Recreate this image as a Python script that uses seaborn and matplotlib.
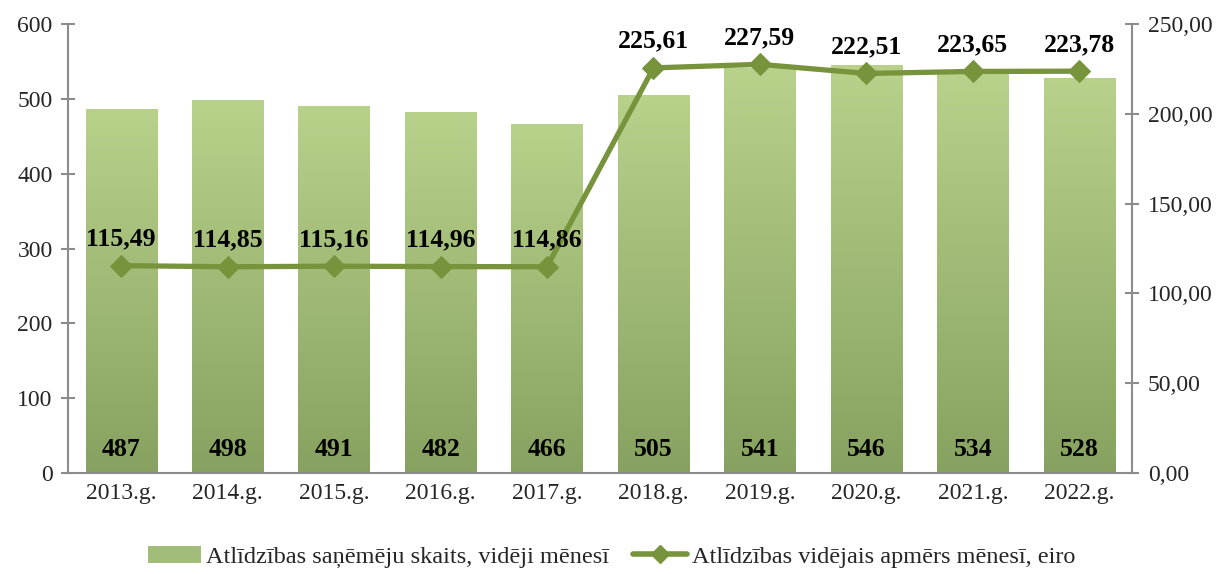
import numpy as np
import pandas as pd
import matplotlib
matplotlib.use("Agg")
import matplotlib.pyplot as plt
from matplotlib.colors import LinearSegmentedColormap
from matplotlib.lines import Line2D
from matplotlib.patches import Patch
import seaborn as sns

years = ["2013.g.", "2014.g.", "2015.g.", "2016.g.", "2017.g.", "2018.g.", "2019.g.", "2020.g.", "2021.g.", "2022.g."]
recipients = [487, 498, 491, 482, 466, 505, 541, 546, 534, 528]
avg_amount = [115.49, 114.85, 115.16, 114.96, 114.86, 225.61, 227.59, 222.51, 223.65, 223.78]
bar_label = "Atlīdzības saņēmēju skaits, vidēji mēnesī"
line_label = "Atlīdzības vidējais apmērs mēnesī, eiro"

sns.set_theme(style="white")
plt.rcParams["font.family"] = ["Liberation Serif", "DejaVu Serif"]

df = pd.DataFrame({"year": years, "recipients": recipients, "amount": avg_amount})

fig = plt.figure(figsize=(12.23, 5.74), dpi=100)
ax = fig.add_axes([0.0556, 0.176, 0.8704, 0.782])
sns.barplot(data=df, x="year", y="recipients", ax=ax, color="#a9c47f", width=0.67, saturation=1)
ax.set_ylim(0, 600)
ax.set_xlim(-0.5, len(years) - 0.5)

cmap = LinearSegmentedColormap.from_list("g", ["#87a160", "#b8d28c"])
grad = np.linspace(0, 1, 256).reshape(-1, 1)
for p in ax.patches:
    x0, y0 = p.get_x(), p.get_y()
    w, h = p.get_width(), p.get_height()
    im = ax.imshow(grad, cmap=cmap, extent=[x0, x0 + w, 0, h], origin="lower",
                   aspect="auto", zorder=p.get_zorder() + 0.1)
    im.set_clip_path(p)
ax.set_xlim(-0.5, len(years) - 0.5)
ax.set_ylim(0, 600)

for i, v in enumerate(recipients):
    ax.text(i, 32, str(v), ha="center", va="center", fontsize=18.5, fontweight="bold", color="black", zorder=5)

ax2 = ax.twinx()
sns.lineplot(x=np.arange(len(years)), y=avg_amount, ax=ax2, color="#77933c", linewidth=3.8,
             marker="D", markersize=11, markeredgecolor="#77933c", markerfacecolor="#77933c")
ax2.set_ylim(0, 250)
ax2.set_xlim(-0.5, len(years) - 0.5)
for i, v in enumerate(avg_amount):
    ax2.annotate(f"{v:.2f}".replace(".", ","), (i, v), xytext=(0, 11), textcoords="offset points",
                 ha="center", va="bottom", fontsize=18.5, fontweight="bold", color="black")

spine_c = "#8c8c8c"
for a in (ax, ax2):
    for s in a.spines.values():
        s.set_visible(False)
ax.spines["left"].set_visible(True)
ax.spines["left"].set_color(spine_c)
ax.spines["left"].set_linewidth(1.5)
ax.spines["bottom"].set_visible(True)
ax.spines["bottom"].set_color(spine_c)
ax.spines["bottom"].set_linewidth(1.5)
ax2.spines["right"].set_visible(True)
ax2.spines["right"].set_color(spine_c)
ax2.spines["right"].set_linewidth(1.5)

ax.set_yticks(range(0, 601, 100))
ax2.set_yticks(range(0, 251, 50))
ax2.set_yticklabels([f"{t},00" for t in range(0, 251, 50)])
ax.set_xticks(np.arange(len(years) + 1) - 0.5, minor=False)
ax.set_xticklabels([])
ax.set_xticks(np.arange(len(years)), minor=True)
ax.set_xticklabels(years, minor=True)
ax.tick_params(axis="x", which="major", direction="inout", length=10, color=spine_c, width=1.5)
ax.tick_params(axis="x", which="minor", length=0, labelsize=17, pad=7)
ax.tick_params(axis="y", direction="inout", length=10, color=spine_c, width=1.5, labelsize=17, pad=6, left=True)
ax2.tick_params(axis="y", direction="inout", length=10, color=spine_c, width=1.5, labelsize=17, pad=6, right=True)
ax.set_xlabel("")
ax.set_ylabel("")
ax2.set_ylabel("")
ax.grid(False)
ax2.grid(False)

handles = [Patch(facecolor="#a2bd79", edgecolor="none", label=bar_label),
           Line2D([0], [0], color="#77933c", lw=4, marker="D", markersize=9, label=line_label)]
fig.legend(handles=handles, loc="center", bbox_to_anchor=(0.5, 0.03), ncol=2, frameon=False,
           fontsize=17.5, handlelength=2.2, columnspacing=1.0, handletextpad=0.2)

fig.savefig("out.png", dpi=100)
